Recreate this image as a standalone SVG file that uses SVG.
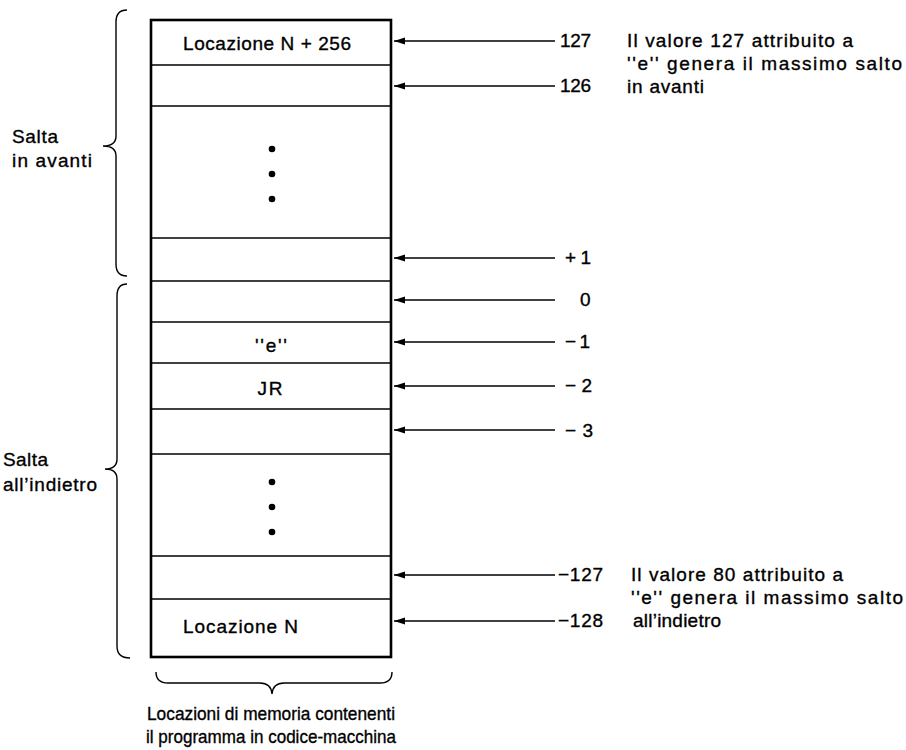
<svg xmlns="http://www.w3.org/2000/svg" width="906" height="750" viewBox="0 0 906 750">
<defs>
<style>
text{font-family:"Liberation Sans",Arial,sans-serif;font-size:19px;fill:#000;stroke:#000;stroke-width:0.35}
.c{text-anchor:middle}
.row{fill:none;stroke:#000;stroke-width:1.4}
.outer{fill:none;stroke:#000;stroke-width:2.6}
.brace{fill:none;stroke:#000;stroke-width:1.4}
.arr{stroke:#000;stroke-width:1.3;fill:none;marker-end:url(#ah)}
</style>
<marker id="ah" markerWidth="12" markerHeight="8" refX="11" refY="4" orient="auto" markerUnits="userSpaceOnUse">
<path d="M0,0.5 L11,4 L0,7.5 Z" fill="#000"/>
</marker>
</defs>
<rect width="906" height="750" fill="#fff"/>

<g id="memory">
<g id="r1"><line class="row" x1="151" y1="65" x2="391" y2="65"/><text class="c" x="267" y="50" textLength="168" lengthAdjust="spacing">Locazione N + 256</text></g>
<g id="r2"><line class="row" x1="151" y1="106" x2="391" y2="106"/></g>
<g id="r3"><circle cx="272" cy="149" r="3.3"/><circle cx="272" cy="174" r="3.3"/><circle cx="272" cy="199" r="3.3"/><line class="row" x1="151" y1="238" x2="391" y2="238"/></g>
<g id="r4"><line class="row" x1="151" y1="281" x2="391" y2="281"/></g>
<g id="r5"><line class="row" x1="151" y1="322" x2="391" y2="322"/></g>
<g id="r6"><text class="c" x="271" y="352" textLength="32" lengthAdjust="spacing">''e''</text><line class="row" x1="151" y1="363" x2="391" y2="363"/></g>
<g id="r7"><text class="c" x="270" y="395" textLength="25" lengthAdjust="spacing">JR</text><line class="row" x1="151" y1="409" x2="391" y2="409"/></g>
<g id="r8"><line class="row" x1="151" y1="454" x2="391" y2="454"/></g>
<g id="r9"><circle cx="272" cy="482" r="3.3"/><circle cx="272" cy="507" r="3.3"/><circle cx="272" cy="532" r="3.3"/><line class="row" x1="151" y1="556" x2="391" y2="556"/></g>
<g id="r10"><line class="row" x1="151" y1="599" x2="391" y2="599"/></g>
<g id="r11"><text x="183" y="633" textLength="115" lengthAdjust="spacing">Locazione N</text></g>
<rect class="outer" x="151" y="20" width="240" height="637"/>
</g>

<g id="connectors">
<line class="arr" x1="555" y1="41" x2="394" y2="41"/>
<line class="arr" x1="555" y1="86" x2="394" y2="86"/>
<line class="arr" x1="555" y1="258" x2="394" y2="258"/>
<line class="arr" x1="555" y1="300" x2="394" y2="300"/>
<line class="arr" x1="555" y1="342" x2="394" y2="342"/>
<line class="arr" x1="555" y1="386" x2="394" y2="386"/>
<line class="arr" x1="555" y1="430" x2="394" y2="430"/>
<line class="arr" x1="555" y1="575" x2="394" y2="575"/>
<line class="arr" x1="555" y1="621" x2="394" y2="621"/>
</g>

<g id="offsets">
<text x="560" y="47" textLength="31" lengthAdjust="spacing">127</text>
<text x="560" y="92" textLength="31" lengthAdjust="spacing">126</text>
<text x="565" y="264" textLength="26" lengthAdjust="spacing">+1</text>
<text x="580" y="306" textLength="11" lengthAdjust="spacing">0</text>
<text x="565" y="348" textLength="25" lengthAdjust="spacing">−1</text>
<text x="565" y="392" textLength="27" lengthAdjust="spacing">−2</text>
<text x="565" y="437" textLength="28" lengthAdjust="spacing">−3</text>
<text x="558" y="581" textLength="45" lengthAdjust="spacing">−127</text>
<text x="558" y="627" textLength="45" lengthAdjust="spacing">−128</text>
</g>

<g id="note-top">
<text x="627" y="47" textLength="226" lengthAdjust="spacing">Il valore 127 attribuito a</text>
<text x="627" y="70" textLength="275" lengthAdjust="spacing">''e'' genera il massimo salto</text>
<text x="627" y="93" textLength="77" lengthAdjust="spacing">in avanti</text>
</g>

<g id="note-bottom">
<text x="631" y="581" textLength="212" lengthAdjust="spacing">Il valore 80 attribuito a</text>
<text x="631" y="604" textLength="272" lengthAdjust="spacing">''e'' genera il massimo salto</text>
<text x="633" y="627" textLength="88" lengthAdjust="spacing">all’indietro</text>
</g>

<g id="brace-forward">
<path class="brace" d="M127,10 Q116,10 116,22 L116,136 Q116,146 103,146 Q116,146 116,156 L116,264 Q116,276 127,276"/>
<text x="12" y="143" textLength="46" lengthAdjust="spacing">Salta</text>
<text x="12" y="167" textLength="80" lengthAdjust="spacing">in avanti</text>
</g>

<g id="brace-backward">
<path class="brace" d="M127,284 Q117,284 117,296 L117,459 Q117,469 105,469 Q117,469 117,479 L117,646 Q117,658 130,658"/>
<text x="3" y="466" textLength="45" lengthAdjust="spacing">Salta</text>
<text x="3" y="491" textLength="94" lengthAdjust="spacing">all’indietro</text>
</g>

<g id="brace-memory">
<path class="brace" d="M156,672 Q156,683 168,683 L260,683 Q271,683 272,694 Q273,683 284,683 L380,683 Q392,683 392,672"/>
<text class="c" x="271" y="720" textLength="248" lengthAdjust="spacingAndGlyphs">Locazioni di memoria contenenti</text>
<text class="c" x="271" y="743" textLength="250" lengthAdjust="spacingAndGlyphs">il programma in codice-macchina</text>
</g>
</svg>
